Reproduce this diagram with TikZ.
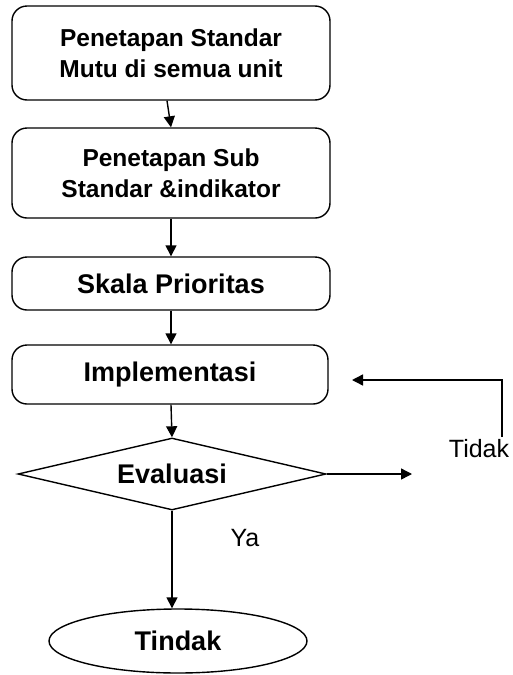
\documentclass[tikz,border=0pt]{standalone}
\usepackage{fontspec}
\setmainfont{Liberation Sans}
\usetikzlibrary{shapes.geometric,arrows.meta}
\begin{document}
\begin{tikzpicture}[x=1pt,y=-1pt,
  lw/.style={line width=1.4pt},
  box/.style={lw,draw,rounded corners=15pt,inner sep=0pt,align=center},
  arr/.style={lw,-{Triangle[length=11pt,width=11pt]}},
  bigb/.style={font=\fontsize{24.5}{31}\selectfont\bfseries},
  midb/.style={font=\fontsize{27}{32}\selectfont\bfseries},
  reg/.style={font=\fontsize{25}{30}\selectfont}]
\useasboundingbox (0,0) rectangle (512,675);
\node[box,bigb,minimum width=318pt,minimum height=94pt] (b1) at (171,53) {Penetapan Standar\\Mutu di semua unit};
\node[box,bigb,minimum width=318pt,minimum height=90pt] (b2) at (171,173) {Penetapan Sub\\Standar \&indikator};
\node[box,midb,minimum width=318pt,minimum height=53pt] (b3) at (171,283.5) {Skala Prioritas};
\node[box,midb,minimum width=316pt,minimum height=59pt] (b4) at (170,374.5) {Implementasi};
\node[lw,draw,diamond,shape aspect=4.28,midb,inner sep=0pt,minimum width=308pt,minimum height=72pt] (d) at (172,474) {Evaluasi};
\node[lw,draw,ellipse,midb,inner sep=0pt,minimum width=258pt,minimum height=64pt] (e) at (178,641) {Tindak};
\node[reg] (tidak) at (479,449) {Tidak};
\node[reg] (ya) at (245,538) {Ya};
\coordinate (tend) at (412,474);
\coordinate (f1) at (502,437);
\coordinate (f2) at (502,380);
\coordinate (f3) at (352,380);
\draw[arr] ([xshift=-4pt]b1.south) -- (b2.north);
\draw[arr] (b2.south) -- (b3.north);
\draw[arr] (b3.south) -- (b3.south |- b4.north);
\draw[arr] (b3.south |- b4.south) -- (d.north);
\draw[arr] (d.east) -- (tend);
\draw[arr] (f1) -- (f2) -- (f3);
\draw[arr] (d.south) -- (d.south |- e.north);
\end{tikzpicture}
\end{document}
